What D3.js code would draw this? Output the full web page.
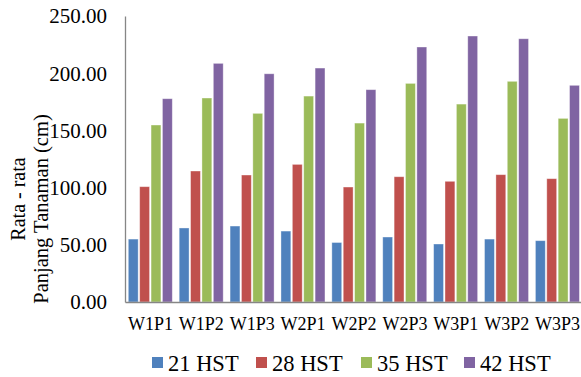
<!DOCTYPE html>
<html>
<head>
<meta charset="utf-8">
<script src="https://cdn.jsdelivr.net/npm/d3@7"></script>
<style>
  html, body { margin: 0; padding: 0; background: #fff; }
  svg text { font-family: "Liberation Serif", serif; }
</style>
</head>
<body>
<svg id="chart" width="581" height="377"></svg>
<script>
// Average plant length per treatment, by week after planting
const categories = ["W1P1", "W1P2", "W1P3", "W2P1", "W2P2", "W2P3", "W3P1", "W3P2", "W3P3"];
const seriesNames = ["21 HST", "28 HST", "35 HST", "42 HST"];
const hst21 = [55.0, 64.7, 66.4, 62.0, 52.0, 56.8, 50.7, 55.0, 53.6];
const hst28 = [100.8, 114.5, 111.0, 120.3, 100.5, 109.5, 105.5, 111.3, 107.8];
const hst35 = [154.7, 178.3, 164.9, 180.0, 156.4, 191.1, 173.0, 192.9, 160.5];
const hst42 = [177.7, 208.6, 199.5, 204.5, 185.6, 222.9, 232.5, 230.1, 189.4];
const yTicks = [0, 50, 100, 150, 200, 250];
const colors = ["#4F81BD", "#C0504D", "#9BBB59", "#8064A2"];

const seriesValues = [hst21, hst28, hst35, hst42];
const SERIF = "'Liberation Serif', 'Times New Roman', serif";

const svg = d3.select("#chart");

const x0 = d3.scaleBand().domain(categories).range([125, 583]).padding(0);
const x1 = d3.scaleBand().domain(seriesNames).range([3.3, 47.3]).paddingInner(0.133).paddingOuter(0);
const y = d3.scaleLinear().domain([0, 250]).range([302, 16]);

// bars
const groups = svg.append("g").selectAll("g")
  .data(categories)
  .join("g")
  .attr("transform", d => `translate(${x0(d)},0)`);

groups.selectAll("rect")
  .data((c, i) => seriesNames.map((s, k) => ({ s, k, v: seriesValues[k][i] })))
  .join("rect")
  .attr("x", d => x1(d.s))
  .attr("width", x1.bandwidth())
  .attr("y", d => y(d.v))
  .attr("height", d => y(0) - y(d.v))
  .attr("fill", d => colors[d.k])
  .attr("stroke", "#ffffff")
  .attr("stroke-opacity", 0.45)
  .attr("stroke-width", 0.8);

// y axis: line only, labels with two decimals
const yAxis = d3.axisLeft(y).tickValues(yTicks).tickSize(0).tickPadding(18)
  .tickFormat(d => d3.format(".2f")(d));
const gy = svg.append("g").attr("transform", "translate(125,0)").call(yAxis);
gy.attr("font-family", null).attr("font-size", null);
gy.select(".domain").attr("stroke", "#868686").attr("stroke-width", 1.3);
gy.selectAll("text")
  .style("font-family", SERIF)
  .style("font-size", "21px")
  .attr("fill", "#000")
  .attr("dy", "0.33em");

// x axis
const xAxis = d3.axisBottom(x0).tickSize(0).tickPadding(15);
const gx = svg.append("g").attr("transform", "translate(0,302)").call(xAxis);
gx.attr("font-family", null).attr("font-size", null);
gx.select(".domain").attr("stroke", "#868686").attr("stroke-width", 1.3);
gx.selectAll("text")
  .style("font-family", SERIF)
  .style("font-size", "18px")
  .attr("fill", "#000");

// y axis title, two lines
svg.append("text")
  .attr("transform", "translate(25,199) rotate(-90)")
  .attr("text-anchor", "middle")
  .style("font-family", SERIF)
  .style("font-size", "20px")
  .text("Rata - rata");
svg.append("text")
  .attr("transform", "translate(48,209) rotate(-90)")
  .attr("text-anchor", "middle")
  .style("font-family", SERIF)
  .style("font-size", "20.5px")
  .text("Panjang Tanaman (cm)");

// legend
const legendX = [152, 256, 361, 464];
const legend = svg.append("g").selectAll("g")
  .data(seriesNames)
  .join("g")
  .attr("transform", (d, i) => `translate(${legendX[i]},357)`);
legend.append("rect")
  .attr("width", 11).attr("height", 11)
  .attr("fill", (d, i) => colors[i]);
legend.append("text")
  .attr("x", 16).attr("y", 14)
  .style("font-family", SERIF)
  .style("font-size", "22.5px")
  .attr("fill", "#000")
  .text(d => d);
</script>
</body>
</html>
